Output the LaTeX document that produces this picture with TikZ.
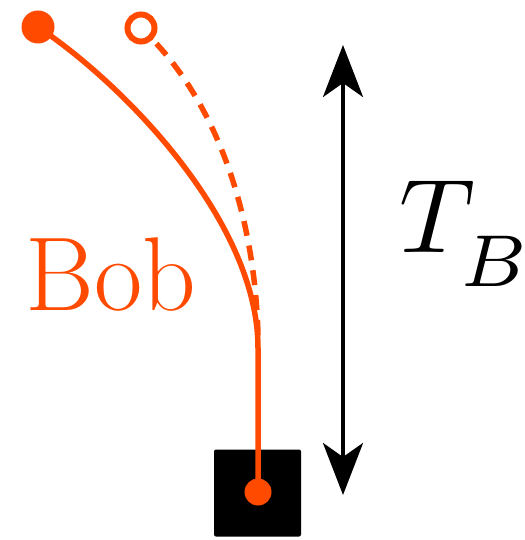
\documentclass[tikz,border=0pt]{standalone}
\usepackage{graphicx}
\usetikzlibrary{arrows.meta}
\definecolor{bob}{HTML}{FF4A00}
\begin{document}
\begin{tikzpicture}[x=1pt,y=-1pt,
  path/.style={draw=bob,line width=5.5pt},
  big/.style={font=\fontsize{105}{105}\selectfont,inner sep=0pt}]
\useasboundingbox (0,0) rectangle (524,540);
% station box
\node[fill=black,rounded corners=2pt,minimum width=87pt,minimum height=87pt,inner sep=0pt] (box) at (257.5,493) {};
% bottom dot
\coordinate (start) at (258,492);
\coordinate (bend) at (258,348);
\node[circle,fill=bob,minimum size=27pt,inner sep=0pt] (sdot) at (start) {};
% solid curve
\node[circle,fill=bob,minimum size=33pt,inner sep=0pt] (a) at (38,27) {};
\draw[path] (sdot.center) -- (bend) .. controls (258,222) and (125,85) .. (a.center);
% dashed curve
\node[circle,draw=bob,line width=6pt,fill=white,minimum size=27pt,inner sep=0pt] (b) at (141,28) {};
\coordinate (dend) at (258,335);
\draw[path,dash pattern=on 15pt off 10pt] (dend) .. controls (255,220) and (220,110) .. (b.south east);
% arrow
\coordinate (top) at (343,45);
\coordinate (bot) at (343,495);
\draw[line width=4pt,{Stealth[length=52pt,width=40pt,inset=14pt]}-{Stealth[length=52pt,width=40pt,inset=14pt]}] (top) -- (bot);
% labels
\node[big,text=bob,anchor=base] (lbl) at (111,310) {Bob};
\node[inner sep=0pt,anchor=base west] (tb) at (399,252) {\scalebox{10.5}{$T_{\lower1.8pt\hbox{$\scriptstyle B$}}$}};
\end{tikzpicture}
\end{document}
